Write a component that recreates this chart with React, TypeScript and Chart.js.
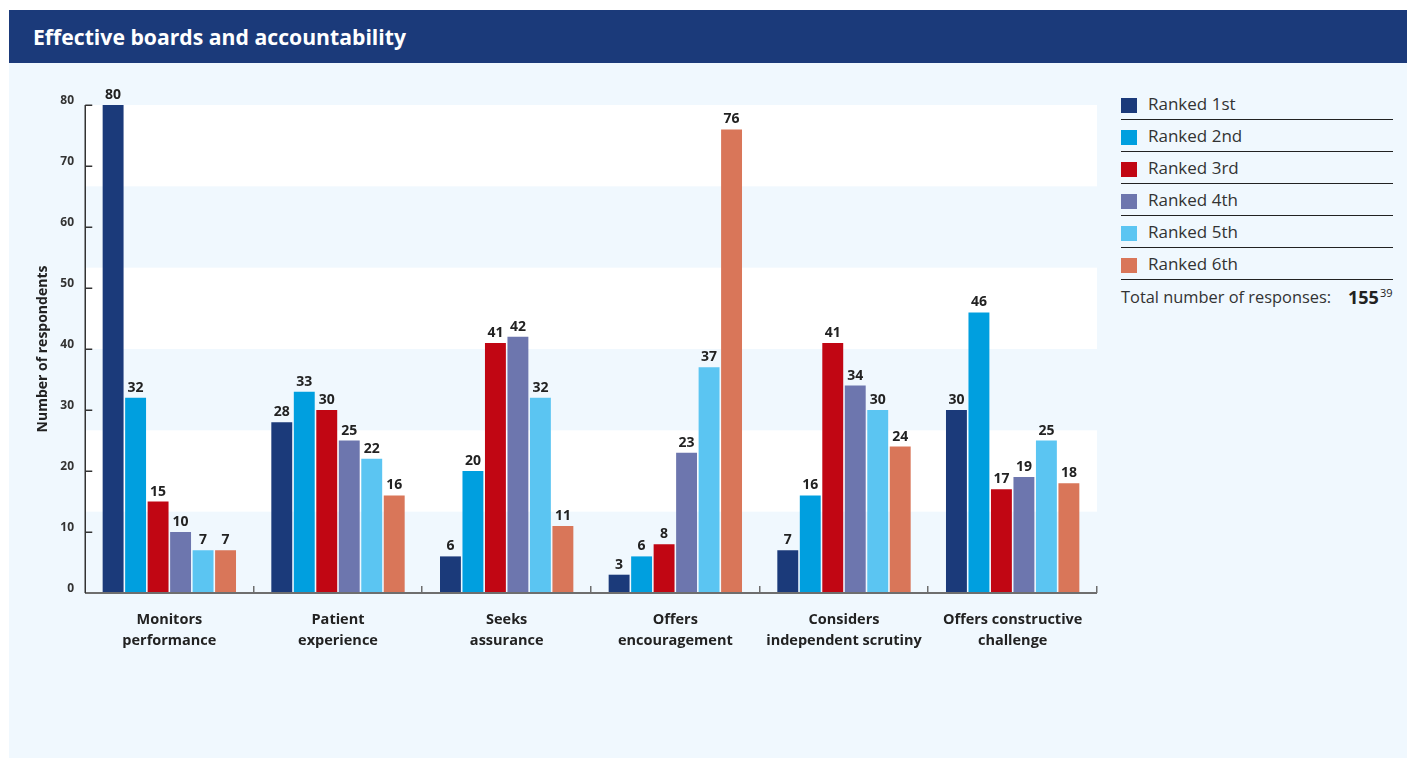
import React, { useEffect, useRef } from "react";
import { Chart, registerables } from "chart.js";

Chart.register(...registerables);

const categories: string[][] = [
  ["Monitors", "performance"],
  ["Patient", "experience"],
  ["Seeks", "assurance"],
  ["Offers", "encouragement"],
  ["Considers", "independent scrutiny"],
  ["Offers constructive", "challenge"],
];
const seriesLabels = ["Ranked 1st", "Ranked 2nd", "Ranked 3rd", "Ranked 4th", "Ranked 5th", "Ranked 6th"];
const ranked1 = [80, 28, 6, 3, 7, 30];
const ranked2 = [32, 33, 20, 6, 16, 46];
const ranked3 = [15, 30, 41, 8, 41, 17];
const ranked4 = [10, 25, 42, 23, 34, 19];
const ranked5 = [7, 22, 32, 37, 30, 25];
const ranked6 = [7, 16, 11, 76, 24, 18];
const seriesValues = [ranked1, ranked2, ranked3, ranked4, ranked5, ranked6];
const seriesColors = ["#1b3a7a", "#009fdf", "#c10613", "#6d76ae", "#5bc5f2", "#d97659"];
const yMin = 0;
const yMax = 80;
const yStep = 10;
const totalResponses = "155";
const footnote = "39";

const FONT = "'Open Sans', 'Noto Sans', sans-serif";
const PANEL_BG = "#f0f8fe";
const NAVY = "#1b3a7a";

const decorPlugin = {
  id: "decor",
  beforeDatasetsDraw(chart: any) {
    const { ctx, chartArea, scales } = chart;
    const y = scales.y;
    const band = (yMax - yMin) / 6;
    ctx.save();
    ctx.fillStyle = "#ffffff";
    for (let i = 1; i < 6; i += 2) {
      const lo = yMin + band * i;
      const hi = yMin + band * (i + 1);
      const top = y.getPixelForValue(hi);
      const bot = y.getPixelForValue(lo);
      ctx.fillRect(chartArea.left, top, chartArea.right - chartArea.left, bot - top);
    }
    ctx.restore();
  },
  afterDatasetsDraw(chart: any) {
    const { ctx, chartArea, scales } = chart;
    const y = scales.y;
    ctx.save();
    // data labels
    ctx.font = `bold 14px ${FONT}`;
    ctx.fillStyle = "#222222";
    ctx.textAlign = "center";
    ctx.textBaseline = "alphabetic";
    chart.data.datasets.forEach((ds: any, di: number) => {
      const meta = chart.getDatasetMeta(di);
      meta.data.forEach((bar: any, i: number) => {
        ctx.fillText(String(ds.data[i]), bar.x, bar.y - 6);
      });
    });
    // x axis line
    const baseY = y.getPixelForValue(yMin);
    ctx.strokeStyle = "#6e6e6e";
    ctx.lineWidth = 2;
    ctx.beginPath();
    ctx.moveTo(chartArea.left, baseY);
    ctx.lineTo(chartArea.right, baseY);
    ctx.stroke();
    // category boundary ticks
    ctx.lineWidth = 1.5;
    const n = chart.data.labels.length;
    const cw = (chartArea.right - chartArea.left) / n;
    for (let k = 1; k <= n; k++) {
      const px = Math.round(chartArea.left + k * cw) - 0.25;
      ctx.beginPath();
      ctx.moveTo(px, baseY);
      ctx.lineTo(px, baseY - 7);
      ctx.stroke();
    }
    // y axis line + inward ticks
    ctx.strokeStyle = "#333333";
    ctx.lineWidth = 1.5;
    const ax = chartArea.left + 0.25;
    ctx.beginPath();
    ctx.moveTo(ax, y.getPixelForValue(yMax));
    ctx.lineTo(ax, baseY);
    ctx.stroke();
    for (let v = yMin + yStep; v <= yMax; v += yStep) {
      const py = Math.round(y.getPixelForValue(v)) + 0.25;
      ctx.beginPath();
      ctx.moveTo(ax, py);
      ctx.lineTo(ax + 7, py);
      ctx.stroke();
    }
    ctx.restore();
  },
};

function BarChart() {
  const ref = useRef<HTMLCanvasElement | null>(null);
  useEffect(() => {
    if (!ref.current) return;
    const chart = new Chart(ref.current, {
      type: "bar",
      data: {
        labels: categories,
        datasets: seriesValues.map((vals, i) => ({
          label: seriesLabels[i],
          data: vals,
          backgroundColor: seriesColors[i],
          borderWidth: 0,
          categoryPercentage: 0.8,
          barPercentage: 0.93,
        })),
      },
      options: {
        animation: false,
        responsive: false,
        maintainAspectRatio: false,
        layout: { padding: { left: 0, right: 22, top: 42, bottom: 0 } },
        plugins: {
          legend: { display: false },
          tooltip: { enabled: false },
          title: { display: false },
        },
        scales: {
          x: {
            grid: { display: false },
            border: { display: false },
            ticks: {
              color: "#222222",
              font: { family: FONT, size: 14.5, weight: "bold", lineHeight: 1.45 },
              padding: 8,
              maxRotation: 0,
              autoSkip: false,
            },
            afterFit: (s: any) => {
              s.height = 110;
            },
          },
          y: {
            min: yMin,
            max: yMax,
            grid: { display: false },
            border: { display: false },
            ticks: {
              stepSize: yStep,
              color: "#333333",
              font: { family: FONT, size: 12, weight: "bold" },
              padding: 3,
              labelOffset: -4,
            },
            title: {
              display: true,
              text: "Number of respondents",
              color: "#222222",
              font: { family: FONT, size: 14, weight: "bold", lineHeight: 1.2 },
              padding: { top: 26, bottom: 0 },
            },
            afterFit: (s: any) => {
              s.width = 76;
            },
          },
        },
      },
      plugins: [decorPlugin],
    } as any);
    return () => chart.destroy();
  }, []);
  return <canvas ref={ref} width={1110} height={640} style={{ position: "absolute", left: 0, top: 53, width: 1110, height: 640 }} />;
}

export default function App() {
  return (
    <div
      style={{
        position: "fixed",
        left: 9,
        top: 10,
        width: 1398,
        height: 748,
        background: PANEL_BG,
        fontFamily: FONT,
        overflow: "hidden",
      }}
    >
      <div
        style={{
          position: "absolute",
          left: 0,
          top: 0,
          width: 1398,
          height: 53,
          background: NAVY,
          color: "#ffffff",
          fontWeight: 700,
          fontSize: 21.2,
          lineHeight: "53px",
          paddingLeft: 24,
          boxSizing: "border-box",
          whiteSpace: "nowrap",
        }}
      >
        Effective boards and accountability
      </div>
      <BarChart />
      {seriesLabels.map((lab, i) => (
        <React.Fragment key={lab}>
          <div
            style={{
              position: "absolute",
              left: 1112,
              top: 88 + 32 * i,
              width: 16,
              height: 15,
              background: seriesColors[i],
            }}
          />
          <div
            style={{
              position: "absolute",
              left: 1139,
              top: 82 + 32 * i,
              height: 24,
              lineHeight: "24px",
              fontSize: 17,
              color: "#333333",
              whiteSpace: "nowrap",
            }}
          >
            {lab}
          </div>
          <div
            style={{
              position: "absolute",
              left: 1112,
              top: 109 + 32 * i,
              width: 272,
              height: 1,
              background: "#222222",
            }}
          />
        </React.Fragment>
      ))}
      <div
        style={{
          position: "absolute",
          left: 1112,
          top: 275,
          height: 24,
          lineHeight: "24px",
          fontSize: 16.4,
          color: "#333333",
          whiteSpace: "nowrap",
        }}
      >
        Total number of responses:
      </div>
      <div
        style={{
          position: "absolute",
          left: 1339,
          top: 275,
          height: 24,
          lineHeight: "24px",
          fontSize: 18,
          fontWeight: 700,
          color: "#222222",
          whiteSpace: "nowrap",
        }}
      >
        {totalResponses}
        <sup style={{ fontSize: 11, fontWeight: 400, verticalAlign: "7px", lineHeight: 0, marginLeft: 1 }}>{footnote}</sup>
      </div>
    </div>
  );
}
